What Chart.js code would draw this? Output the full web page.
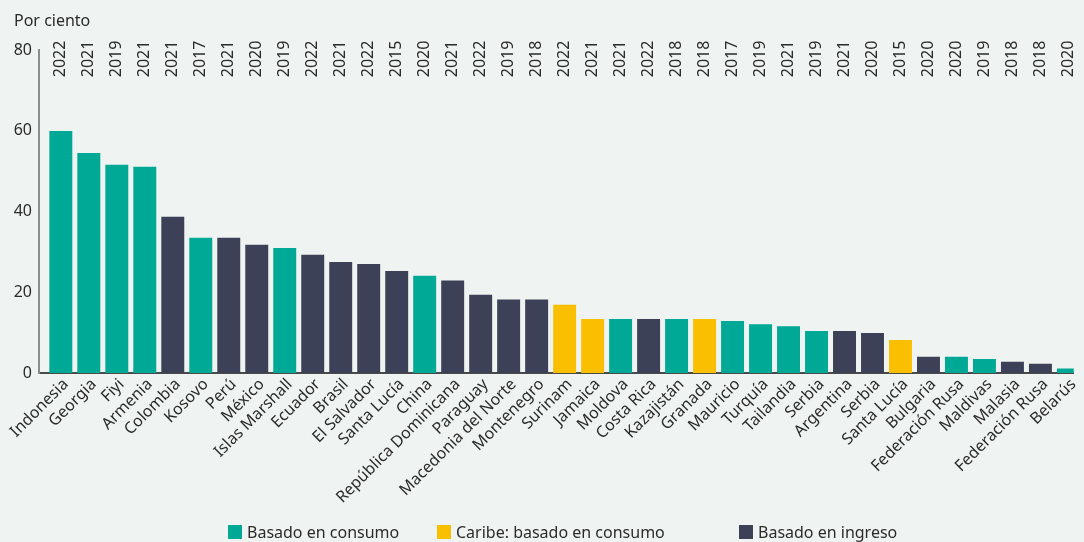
<!DOCTYPE html>
<html>
<head>
<meta charset="utf-8">
<script src="https://cdn.jsdelivr.net/npm/chart.js@4/dist/chart.umd.min.js"></script>
<style>
  html, body { margin: 0; padding: 0; background: #eff3f1; }
  #wrap { position: relative; width: 1084px; height: 542px; }
  #leyenda { position: absolute; left: 0; top: 522px; width: 1084px; height: 20px;
             font-family: 'Noto Sans', sans-serif; font-size: 16px; color: #2b2b2b; }
  #leyenda .item { position: absolute; top: 0; display: flex; align-items: center; line-height: 20px; white-space: nowrap; }
  #leyenda .caja { width: 14px; height: 14px; margin-right: 5px; }
</style>
</head>
<body>
<div id="wrap">
  <canvas id="myChart"></canvas>
  <div id="leyenda"></div>
</div>
<script>
const paises = ['Indonesia', 'Georgia', 'Fiyi', 'Armenia', 'Colombia', 'Kosovo', 'Perú', 'México',
    'Islas Marshall', 'Ecuador', 'Brasil', 'El Salvador', 'Santa Lucía', 'China', 'República Dominicana',
    'Paraguay', 'Macedonia del Norte', 'Montenegro', 'Surinam', 'Jamaica', 'Moldova', 'Costa Rica',
    'Kazajistán', 'Granada', 'Mauricio', 'Turquía', 'Tailandia', 'Serbia', 'Argentina', 'Serbia',
    'Santa Lucía', 'Bulgaria', 'Federación Rusa', 'Maldivas', 'Malasia', 'Federación Rusa', 'Belarús'];

const anios = ['2022', '2021', '2019', '2021', '2021', '2017', '2021', '2020', '2019', '2022', '2021',
    '2022', '2015', '2020', '2021', '2022', '2019', '2018', '2022', '2021', '2021', '2022', '2018',
    '2018', '2017', '2019', '2021', '2019', '2021', '2020', '2015', '2020', '2020', '2019', '2018',
    '2018', '2020'];

const porcentajes = [60.0, 54.5, 51.6, 51.1, 38.7, 33.5, 33.5, 31.8, 31.0, 29.3, 27.5, 27.0, 25.3,
    24.1, 22.9, 19.4, 18.2, 18.2, 16.9, 13.4, 13.4, 13.4, 13.4, 13.4, 12.9, 12.1, 11.6, 10.4, 10.4,
    9.9, 8.2, 4.0, 4.0, 3.5, 2.8, 2.3, 1.1];

// 0 = consumo, 1 = Caribe (consumo), 2 = ingreso
const metodo = [0, 0, 0, 0, 2, 0, 2, 2, 0, 2, 2, 2, 2, 0, 2, 2, 2, 2, 1, 1, 0, 2, 0, 1, 0, 0, 0, 0,
    2, 2, 1, 2, 0, 0, 2, 2, 0];

const series = ['Basado en consumo', 'Caribe: basado en consumo', 'Basado en ingreso'];
const colores = ['#00a996', '#f9bf00', '#3d4157'];

const fuente = "'Noto Sans', sans-serif";
const colorTexto = '#2b2b2b';

const datasets = series.map((nombre, k) => ({
    label: nombre,
    data: porcentajes
        .map((v, i) => ({ x: i, y: v }))
        .filter((p) => metodo[p.x] === k),
    backgroundColor: colores[k],
    borderWidth: 0,
    categoryPercentage: 1,
    barPercentage: 0.82
}));

// año de la encuesta, escrito en vertical sobre cada barra
const aniosArriba = {
    id: 'aniosArriba',
    afterDraw(chart) {
        const { ctx, scales: { x }, chartArea } = chart;
        ctx.save();
        ctx.font = '16px ' + fuente;
        ctx.fillStyle = colorTexto;
        ctx.textAlign = 'left';
        ctx.textBaseline = 'middle';
        anios.forEach((a, i) => {
            ctx.save();
            ctx.translate(x.getPixelForValue(i), chartArea.top + 27);
            ctx.rotate(-Math.PI / 2);
            ctx.fillText(a, 0, 0);
            ctx.restore();
        });
        ctx.restore();
    }
};

const ctx = document.getElementById('myChart').getContext('2d');
const myChart = new Chart(ctx, {
    type: 'bar',
    data: { datasets: datasets },
    plugins: [aniosArriba],
    options: {
        responsive: true,
        maintainAspectRatio: false,
        animation: false,
        layout: {
            padding: { left: 14, right: 0, top: 12, bottom: 29 }
        },
        scales: {
            x: {
                type: 'linear',
                stacked: true,
                offset: false,
                min: -0.78,
                max: 36.19,
                grid: { display: false, drawTicks: false },
                border: { display: true, color: '#4a4a4a', width: 2 },
                ticks: {
                    stepSize: 1,
                    includeBounds: false,
                    autoSkip: false,
                    minRotation: 45,
                    maxRotation: 45,
                    padding: 2,
                    labelOffset: 5,
                    color: colorTexto,
                    font: { family: fuente, size: 16 },
                    callback: (v) => paises[Math.round(v)]
                },
                afterFit: (scale) => { scale.height = 140; }
            },
            y: {
                stacked: true,
                min: 0,
                max: 80,
                grid: { display: false, drawTicks: false },
                border: { display: true, color: '#8c8c8c', width: 2 },
                ticks: {
                    stepSize: 20,
                    padding: 7,
                    color: colorTexto,
                    font: { family: fuente, size: 16 }
                },
                afterFit: (scale) => { scale.width = 25; }
            }
        },
        plugins: {
            title: {
                display: true,
                text: 'Por ciento',
                align: 'start',
                color: colorTexto,
                font: { family: fuente, size: 16, weight: 'normal' },
                padding: { top: 0, bottom: 19 }
            },
            legend: { display: false },
            tooltip: { enabled: false }
        }
    }
});

// leyenda en HTML, construida a partir de las series
const posLeyenda = [228, 437, 739];
const leyenda = document.getElementById('leyenda');
series.forEach((nombre, k) => {
    const item = document.createElement('div');
    item.className = 'item';
    item.style.left = posLeyenda[k] + 'px';
    const caja = document.createElement('span');
    caja.className = 'caja';
    caja.style.background = colores[k];
    item.appendChild(caja);
    item.appendChild(document.createTextNode(nombre));
    leyenda.appendChild(item);
});
</script>
</body>
</html>
